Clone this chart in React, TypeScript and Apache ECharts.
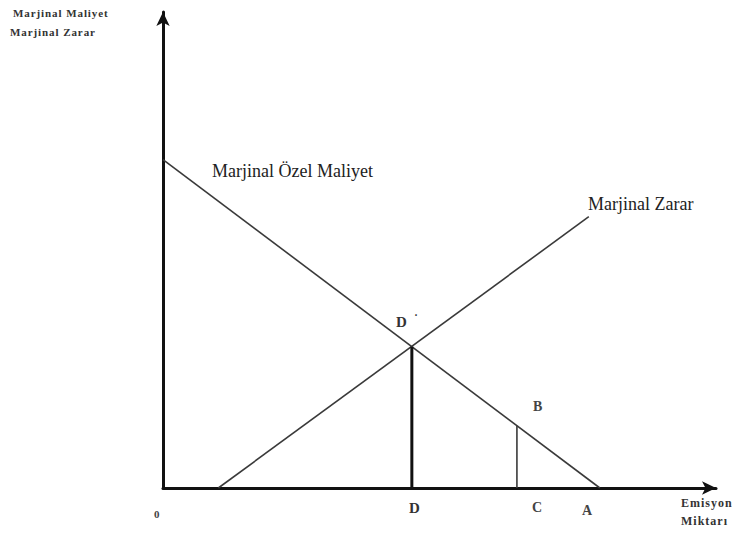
import React, { useEffect, useRef } from "react";
import * as echarts from "echarts";

// Marginal private cost (Marjinal Özel Maliyet) and marginal damage (Marjinal Zarar) curves
const ozelMaliyetX = [0, 7.9];
const ozelMaliyetY = [6.9, 0];
const zararX = [1, 7.7];
const zararY = [0, 5.7];

// Optimum emission level D (where the curves meet) and level C (point B on cost curve)
const optimumX = 4.5;
const optimumY = 2.97;
const cX = 6.4;
const bY = 1.31;

const pointLabels = ["0", "D", "C", "A"];

const SERIF = "'Liberation Serif', 'DejaVu Serif', serif";

// slightly letter-spaced text using hair spaces
const spaced = (s: string) => s.split("").join("\u200A");

export default function App() {
  const ref = useRef<HTMLDivElement>(null);

  useEffect(() => {
    if (!ref.current) return;
    const chart = echarts.init(ref.current, undefined, { renderer: "svg" });

    const pair = (xs: number[], ys: number[]) => xs.map((x, i) => [x, ys[i]]);

    chart.setOption({
      animation: false,
      backgroundColor: "#ffffff",
      grid: { left: 163, right: 25, top: 12, bottom: 46 },
      xAxis: {
        type: "value",
        min: 0,
        max: 10,
        axisLine: {
          show: true,
          symbol: ["none", "arrow"],
          symbolSize: [10, 14],
          lineStyle: { color: "#111", width: 3 },
        },
        axisTick: { show: false },
        axisLabel: { show: false },
        splitLine: { show: false },
      },
      yAxis: {
        type: "value",
        min: 0,
        max: 10,
        axisLine: {
          show: true,
          symbol: ["none", "arrow"],
          symbolSize: [10, 14],
          lineStyle: { color: "#111", width: 3 },
        },
        axisTick: { show: false },
        axisLabel: { show: false },
        splitLine: { show: false },
      },
      series: [
        {
          name: "Marjinal Özel Maliyet",
          type: "line",
          data: pair(ozelMaliyetX, ozelMaliyetY),
          symbol: "none",
          lineStyle: { color: "#3a3a3a", width: 1.6 },
        },
        {
          name: "Marjinal Zarar",
          type: "line",
          data: pair(zararX, zararY),
          symbol: "none",
          lineStyle: { color: "#3a3a3a", width: 1.6 },
        },
        {
          name: "D",
          type: "line",
          data: [
            [optimumX, 0],
            [optimumX, optimumY],
          ],
          symbol: "none",
          lineStyle: { color: "#111", width: 3 },
        },
        {
          name: "C",
          type: "line",
          data: [
            [cX, 0],
            [cX, bY],
          ],
          symbol: "none",
          lineStyle: { color: "#3a3a3a", width: 1.6 },
        },
      ],
      graphic: [
        {
          type: "text",
          left: 13,
          top: 7,
          style: {
            text: spaced("Marjinal Maliyet"),
            font: `bold 11px ${SERIF}`,
            fill: "#333",
          },
        },
        {
          type: "text",
          left: 10,
          top: 26,
          style: {
            text: spaced("Marjinal Zarar"),
            font: `bold 11px ${SERIF}`,
            fill: "#333",
          },
        },
        {
          type: "text",
          left: 212,
          top: 162,
          style: { text: "Marjinal Özel Maliyet", font: `18px ${SERIF}`, fill: "#222" },
        },
        {
          type: "text",
          left: 588,
          top: 195,
          style: { text: "Marjinal Zarar", font: `18px ${SERIF}`, fill: "#222" },
        },
        {
          type: "text",
          left: 396,
          top: 314,
          style: { text: "D", font: `bold 15px ${SERIF}`, fill: "#333" },
        },
        {
          type: "text",
          left: 414,
          top: 313,
          style: { text: "˙", font: `bold 12px ${SERIF}`, fill: "#333" },
        },
        {
          type: "text",
          left: 533,
          top: 399,
          style: { text: "B", font: `bold 14px ${SERIF}`, fill: "#444" },
        },
        {
          type: "text",
          left: 154,
          top: 508,
          style: { text: pointLabels[0], font: `bold 11px ${SERIF}`, fill: "#444" },
        },
        {
          type: "text",
          left: 409,
          top: 500,
          style: { text: pointLabels[1], font: `bold 15px ${SERIF}`, fill: "#333" },
        },
        {
          type: "text",
          left: 532,
          top: 500,
          style: { text: pointLabels[2], font: `bold 14px ${SERIF}`, fill: "#444" },
        },
        {
          type: "text",
          left: 582,
          top: 503,
          style: { text: pointLabels[3], font: `bold 14px ${SERIF}`, fill: "#444" },
        },
        {
          type: "text",
          left: 681,
          top: 497,
          style: { text: spaced("Emisyon"), font: `bold 12px ${SERIF}`, fill: "#333" },
        },
        {
          type: "text",
          left: 681,
          top: 515,
          style: { text: spaced("Miktarı"), font: `bold 12px ${SERIF}`, fill: "#333" },
        },
      ],
    });

    return () => chart.dispose();
  }, []);

  return (
    <div
      ref={ref}
      style={{ position: "absolute", left: 0, top: 0, width: 741, height: 534 }}
    />
  );
}
